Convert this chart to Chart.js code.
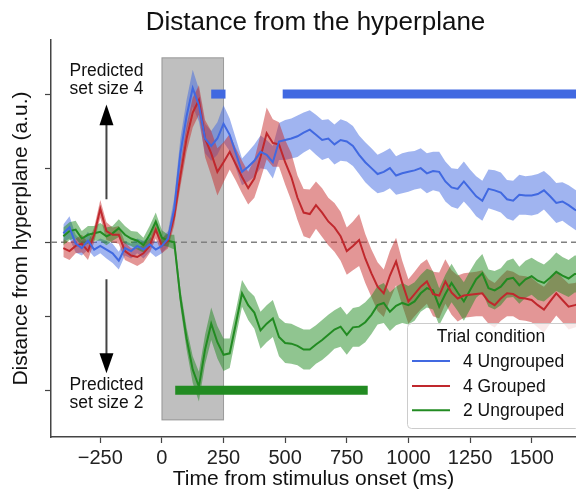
<!DOCTYPE html>
<html>
<head>
<meta charset="utf-8">
<script src="https://cdn.jsdelivr.net/npm/chart.js@4.4.1/dist/chart.umd.min.js"></script>
<style>
  html, body { margin: 0; padding: 0; background: #fff; }
</style>
</head>
<body>
<canvas id="grafico" width="576" height="493"></canvas>
<script>
// tempo (ms) relativo ao início do estímulo
const times = [-400,-375,-350,-325,-300,-275,-250,-225,-200,-175,-150,-125,-100,-75,-50,-25,0,
  25,50,75,100,125,150,175,200,225,250,275,300,325,350,375,400,425,450,475,
  500,525,550,575,600,625,650,675,700,725,750,775,800,825,850,875,900,925,950,975,
  1000,1025,1050,1075,1100,1125,1150,1175,1200,1225,1250,1275,1300,1325,1350,1375,1400,1425,1450,1475,
  1500,1525,1550,1575,1600,1625,1650,1675,1700];

// 4 Ungrouped
const ungrouped4 = [0.12,0.2,-0.02,-0.08,0.02,-0.1,-0.05,-0.1,-0.15,-0.25,-0.08,-0.12,-0.05,-0.1,-0.03,-0.1,-0.05,
  0.05,0.45,1.2,1.7,2.08,1.85,1.4,1.3,1.4,1.6,1.45,1.2,0.95,1.02,1.1,1.22,1.18,1.08,1.36,
  1.38,1.4,1.43,1.48,1.52,1.45,1.38,1.4,1.32,1.38,1.36,1.3,1.18,1.08,1.0,0.92,0.95,1.0,0.9,0.93,
  0.95,0.97,1.0,0.93,0.96,0.95,0.82,0.74,0.72,0.82,0.72,0.62,0.56,0.72,0.7,0.67,0.58,0.56,0.64,0.63,
  0.63,0.65,0.7,0.62,0.53,0.55,0.5,0.44,0.4];
const ungrouped4Err = [0.12,0.15,0.12,0.1,0.12,0.1,0.1,0.12,0.13,0.12,0.1,0.1,0.1,0.12,0.1,0.1,0.1,
  0.1,0.15,0.2,0.22,0.25,0.22,0.2,0.2,0.22,0.25,0.22,0.2,0.18,0.2,0.22,0.22,0.2,0.22,0.25,
  0.27,0.27,0.28,0.27,0.26,0.27,0.27,0.26,0.27,0.28,0.27,0.27,0.26,0.27,0.27,0.26,0.27,0.27,0.26,0.27,
  0.27,0.26,0.27,0.27,0.26,0.27,0.27,0.26,0.27,0.27,0.26,0.27,0.27,0.26,0.27,0.27,0.26,0.27,0.27,0.26,
  0.27,0.27,0.26,0.27,0.27,0.26,0.27,0.27,0.27];

// 4 Grouped
const grouped4 = [-0.08,-0.12,-0.05,-0.02,-0.12,0.1,0.45,0.15,0.1,0.1,-0.12,-0.18,-0.2,-0.15,-0.05,0.17,-0.05,
  0.02,0.35,0.9,1.4,1.75,1.92,1.4,1.2,0.95,1.08,1.22,1.05,0.88,0.73,0.86,1.15,1.47,1.34,1.32,
  1.08,0.88,0.6,0.4,0.38,0.5,0.4,0.28,0.2,0.08,-0.12,-0.05,0.03,-0.22,-0.42,-0.6,-0.69,-0.45,-0.26,-0.55,
  -0.8,-0.7,-0.6,-0.53,-0.7,-0.72,-0.53,-0.68,-0.76,-0.72,-0.71,-0.7,-0.69,-0.8,-0.85,-0.76,-0.69,-0.7,-0.75,-0.76,
  -0.78,-0.85,-0.91,-0.8,-0.69,-0.78,-0.87,-0.85,-0.82];
const grouped4Err = [0.12,0.12,0.1,0.12,0.12,0.1,0.12,0.12,0.1,0.12,0.12,0.1,0.12,0.12,0.1,0.12,0.1,
  0.1,0.12,0.15,0.18,0.2,0.2,0.25,0.3,0.32,0.27,0.24,0.22,0.22,0.22,0.26,0.3,0.35,0.32,0.3,
  0.3,0.32,0.3,0.32,0.33,0.32,0.33,0.32,0.33,0.33,0.32,0.33,0.35,0.33,0.32,0.33,0.32,0.33,0.32,0.3,
  0.3,0.3,0.31,0.3,0.3,0.31,0.3,0.3,0.31,0.3,0.3,0.3,0.31,0.3,0.3,0.3,0.31,0.3,0.3,0.3,
  0.3,0.3,0.31,0.3,0.3,0.3,0.31,0.3,0.3];

// 2 Ungrouped
const ungrouped2 = [0.08,0.15,0.17,0.05,0.1,0.12,0.14,0.08,0.12,0.19,0.1,0.05,0.02,-0.04,0.1,0.28,0.06,
  0.02,0.0,-0.75,-1.3,-1.72,-1.95,-1.45,-1.1,-1.35,-1.52,-1.5,-1.1,-0.69,-0.85,-0.95,-1.19,-1.1,-1.03,-1.28,
  -1.36,-1.37,-1.4,-1.45,-1.45,-1.38,-1.32,-1.25,-1.18,-1.14,-1.25,-1.15,-1.14,-1.08,-0.98,-0.85,-0.82,-0.94,-0.86,-0.82,
  -0.85,-0.8,-0.69,-0.62,-0.65,-0.87,-0.7,-0.55,-0.68,-0.8,-0.65,-0.5,-0.42,-0.62,-0.65,-0.6,-0.5,-0.48,-0.58,-0.5,
  -0.46,-0.52,-0.55,-0.48,-0.4,-0.45,-0.49,-0.43,-0.42];
const ungrouped2Err = [0.12,0.12,0.12,0.1,0.12,0.1,0.12,0.12,0.1,0.12,0.12,0.1,0.12,0.1,0.12,0.12,0.1,
  0.08,0.1,0.12,0.15,0.18,0.2,0.2,0.22,0.22,0.22,0.2,0.18,0.18,0.2,0.22,0.25,0.25,0.25,0.26,
  0.27,0.27,0.26,0.27,0.27,0.26,0.27,0.27,0.26,0.27,0.27,0.26,0.27,0.27,0.26,0.26,0.27,0.26,0.26,0.27,
  0.26,0.26,0.25,0.26,0.26,0.25,0.26,0.26,0.25,0.26,0.26,0.25,0.26,0.25,0.26,0.25,0.25,0.26,0.25,0.25,
  0.25,0.26,0.25,0.25,0.26,0.25,0.25,0.25,0.25];

// barras de significância: [início, fim] em ms, e nível em y
const sigBlueA = [200, 258];
const sigBlueB = [490, 1700];
const sigGreen = [54, 835];
const sigLevels = [2, -2];

const xTicks = [-250, 0, 250, 500, 750, 1000, 1250, 1500];
const yTicks = [-2, -1, 0, 1, 2];
const labels = ['4 Ungrouped', '4 Grouped', '2 Ungrouped'];

const FONT = "'Liberation Sans', Arial, sans-serif";
const BLUE = '#4169e1', RED = '#c0282d', GREEN = '#228b22';

function pts(vals) { return times.map((t, i) => ({ x: t, y: vals[i] })); }
function edge(vals, err, s) { return times.map((t, i) => ({ x: t, y: vals[i] + s * err[i] })); }
function seg(r, y) { return [{ x: r[0], y: y }, { x: r[1], y: y }]; }

function lineDs(label, data, color) {
    return { label, data, borderColor: color, borderWidth: 2, pointRadius: 0, fill: false, tension: 0 };
}
function bandDs(data, fill, color) {
    return { data, borderWidth: 0, pointRadius: 0, fill: fill, backgroundColor: color, tension: 0 };
}
function barDs(data, color) {
    return { data, borderColor: color, borderWidth: 9, borderCapStyle: 'butt', pointRadius: 0, fill: false };
}

const enfeites = {
    id: 'enfeites',
    beforeDatasetsDraw(chart) {
        const { ctx, scales: { x, y } } = chart;
        const x0 = x.getPixelForValue(0), x1 = x.getPixelForValue(250);
        const y0 = y.getPixelForValue(2.49), y1 = y.getPixelForValue(-2.40);
        ctx.save();
        ctx.fillStyle = 'rgba(128,128,128,0.5)';
        ctx.fillRect(x0, y0, x1 - x0, y1 - y0);
        ctx.strokeStyle = 'rgba(110,110,110,0.6)';
        ctx.lineWidth = 1;
        ctx.strokeRect(x0, y0, x1 - x0, y1 - y0);
        ctx.restore();
    },
    afterDraw(chart) {
        const { ctx, chartArea, scales: { x, y } } = chart;
        ctx.save();
        // título
        ctx.fillStyle = '#111';
        ctx.textAlign = 'center';
        ctx.textBaseline = 'alphabetic';
        ctx.font = '26px ' + FONT;
        ctx.fillText('Distance from the hyperplane', (chartArea.left + chartArea.right) / 2 + 2, 30);

        // setas e textos "Predicted"
        const ax = x.getPixelForValue(-225);
        ctx.font = '17.5px ' + FONT;
        ctx.fillText('Predicted', ax, y.getPixelForValue(2.24));
        ctx.fillText('set size 4', ax, y.getPixelForValue(2.0));
        ctx.fillText('Predicted', ax, y.getPixelForValue(-2.0));
        ctx.fillText('set size 2', ax, y.getPixelForValue(-2.24));

        ctx.strokeStyle = '#444';
        ctx.lineWidth = 2;
        ctx.beginPath();
        ctx.moveTo(ax, y.getPixelForValue(0.58));
        ctx.lineTo(ax, y.getPixelForValue(1.6));
        ctx.moveTo(ax, y.getPixelForValue(-0.5));
        ctx.lineTo(ax, y.getPixelForValue(-1.52));
        ctx.stroke();
        ctx.fillStyle = '#000';
        let b = y.getPixelForValue(1.58), t = y.getPixelForValue(1.86);
        ctx.beginPath(); ctx.moveTo(ax - 7, b); ctx.lineTo(ax + 7, b); ctx.lineTo(ax, t); ctx.closePath(); ctx.fill();
        b = y.getPixelForValue(-1.5); t = y.getPixelForValue(-1.77);
        ctx.beginPath(); ctx.moveTo(ax - 7, b); ctx.lineTo(ax + 7, b); ctx.lineTo(ax, t); ctx.closePath(); ctx.fill();

        // legenda
        const lx = 407, ly = 323, lw = 172, lh = 105;
        ctx.fillStyle = 'rgba(255,255,255,0.8)';
        ctx.strokeStyle = '#cccccc';
        ctx.lineWidth = 1;
        ctx.beginPath();
        ctx.roundRect(lx + 0.5, ly + 0.5, lw, lh, 4);
        ctx.fill();
        ctx.stroke();
        ctx.fillStyle = '#111';
        ctx.textAlign = 'center';
        ctx.fillText('Trial condition', 491, 341.7);
        ctx.textAlign = 'left';
        const cores = [BLUE, RED, GREEN];
        const base = [366.7, 391.7, 416];
        labels.forEach((lab, i) => {
            ctx.strokeStyle = cores[i];
            ctx.lineWidth = 2;
            ctx.beginPath();
            ctx.moveTo(412, base[i] - 5.7);
            ctx.lineTo(450, base[i] - 5.7);
            ctx.stroke();
            ctx.fillStyle = '#111';
            ctx.fillText(lab, 463, base[i]);
        });
        ctx.restore();
    }
};

const ctx = document.getElementById('grafico').getContext('2d');

const grafico = new Chart(ctx, {
    type: 'line',
    data: {
        datasets: [
            lineDs(labels[0], pts(ungrouped4), BLUE),
            lineDs(labels[1], pts(grouped4), RED),
            lineDs(labels[2], pts(ungrouped2), GREEN),
            barDs(seg(sigBlueA, sigLevels[0]), BLUE),
            barDs(seg(sigBlueB, sigLevels[0]), BLUE),
            barDs(seg(sigGreen, sigLevels[1]), GREEN),
            bandDs(edge(ungrouped2, ungrouped2Err, 1), '+1', 'rgba(34,139,34,0.5)'),
            bandDs(edge(ungrouped2, ungrouped2Err, -1), false, 'rgba(0,0,0,0)'),
            bandDs(edge(grouped4, grouped4Err, 1), '+1', 'rgba(200,45,45,0.5)'),
            bandDs(edge(grouped4, grouped4Err, -1), false, 'rgba(0,0,0,0)'),
            bandDs(edge(ungrouped4, ungrouped4Err, 1), '+1', 'rgba(65,105,225,0.5)'),
            bandDs(edge(ungrouped4, ungrouped4Err, -1), false, 'rgba(0,0,0,0)'),
            { data: [{ x: -450, y: 0 }, { x: 1700, y: 0 }], borderColor: '#808080', borderWidth: 1.5,
              borderDash: [6, 4], pointRadius: 0, fill: false }
        ]
    },
    options: {
        responsive: false,
        animation: false,
        layout: { padding: { top: 40, right: 0, bottom: 0, left: 0 } },
        plugins: {
            legend: { display: false },
            title: { display: false },
            tooltip: { enabled: false }
        },
        scales: {
            x: {
                type: 'linear',
                min: -450,
                max: 1680,
                afterBuildTicks: s => { s.ticks = xTicks.map(v => ({ value: v })); },
                afterFit: s => { s.height = 56; },
                ticks: {
                    autoSkip: false, maxRotation: 0, padding: 3, color: '#222',
                    font: { family: FONT, size: 20 },
                    callback: v => v < 0 ? '\u2212' + Math.abs(v) : String(v)
                },
                grid: { drawOnChartArea: false, tickLength: 6, tickColor: '#444', tickWidth: 1.2 },
                border: { color: '#444', width: 1.5 },
                title: {
                    display: true, text: 'Time from stimulus onset (ms)', color: '#111',
                    font: { family: FONT, size: 21 }, padding: { top: 0, bottom: 1 }
                }
            },
            y: {
                type: 'linear',
                min: -2.63,
                max: 2.73,
                afterBuildTicks: s => { s.ticks = yTicks.map(v => ({ value: v })); },
                afterFit: s => { s.width = 51; },
                ticks: { display: false },
                grid: { drawOnChartArea: false, tickLength: 6, tickColor: '#444', tickWidth: 1.2 },
                border: { color: '#444', width: 1.5 },
                title: {
                    display: true, text: 'Distance from hyperplane (a.u.)', color: '#111',
                    font: { family: FONT, size: 21 }, padding: { top: 9, bottom: 0 }
                }
            }
        }
    },
    plugins: [enfeites]
});
</script>
</body>
</html>
